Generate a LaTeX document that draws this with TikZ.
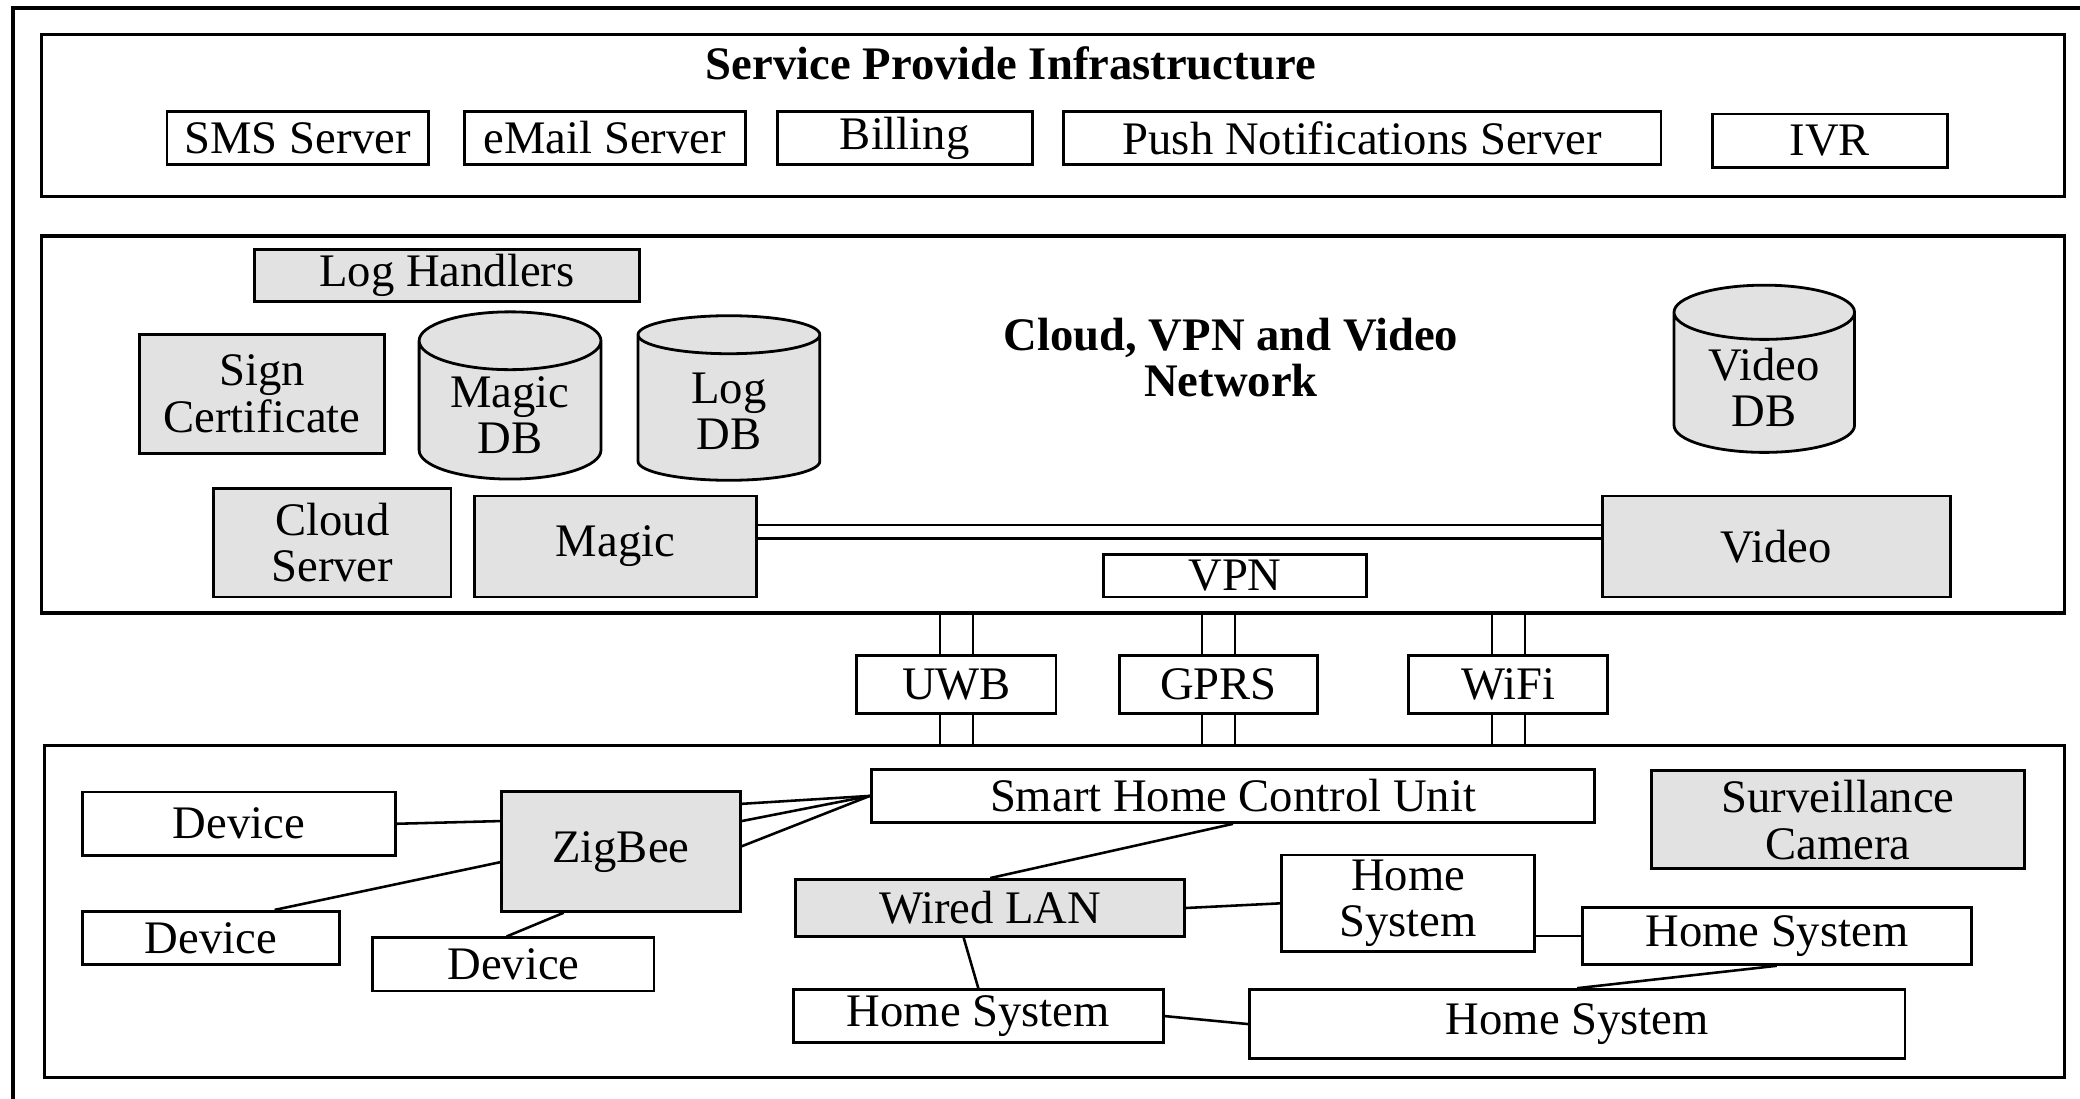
\documentclass[tikz,border=0pt]{standalone}
\usepackage{fontspec}
\setmainfont{Liberation Serif}
\usepackage{xcolor}
\definecolor{BoxGray}{RGB}{226,226,226}
\usepackage{tikz}
\usetikzlibrary{shapes.geometric}
\usetikzlibrary{backgrounds}
\tikzstyle{Layer}=[draw,line width=0.7pt,inner sep=0pt]
\tikzstyle{Box}=[draw,fill=white,line width=0.6pt,inner sep=1pt,
font=\fontsize{10}{10}\selectfont,align=center]
\tikzstyle{GrayBox}=[Box,fill=BoxGray]
\tikzstyle{DataBase}=[cylinder,shape border rotate=90,aspect=0.45,draw,
fill=BoxGray,line width=0.6pt,inner sep=1pt,font=\fontsize{10}{10}\selectfont,
align=center]
\tikzstyle{Title}=[font=\fontsize{10}{10}\selectfont\bfseries,align=center]
\tikzstyle{Edge}=[draw,line width=0.55pt]
\tikzstyle{Pipe}=[draw,line width=0.5pt,double=white,double distance=0.232cm]
\tikzstyle{Bus}=[draw,line width=0.5pt,double=white,double distance=0.082cm]
\begin{document}
\begin{tikzpicture}[x=0.01cm,y=-0.01cm]
        \useasboundingbox(0,0)rectangle(1568,828);
        \draw[line width=0.8pt](10,840)--(10,6)--(1580,6);
        % service provider layer
        \node[Layer,minimum width=15.24cm,minimum height=1.22cm](spi)at(794,87){};
        \node[Title](spit)at(762,48){Service Provide Infrastructure};
        \node[Box,minimum width=1.97cm,minimum height=0.40cm](sms)at(224.5,104){SMS Server};
        \node[Box,minimum width=2.12cm,minimum height=0.40cm](email)at(456,104){eMail Server};
        \node[Box,minimum width=1.92cm,minimum height=0.40cm](bill)at(682,104){Billing};
        \node[Box,minimum width=4.50cm,minimum height=0.40cm](push)at(1027,104){Push Notifications Server};
        \node[Box,minimum width=1.77cm,minimum height=0.40cm](ivr)at(1379.5,106){IVR};
        % cloud layer
        \node[Layer,minimum width=15.24cm,minimum height=2.84cm](cloud)at(794,320){};
        \node[Title](cloudt)at(928,269.5){Cloud, VPN and Video\\Network};
        \node[GrayBox,minimum width=2.90cm,minimum height=0.39cm](logh)at(337,207.5){Log Handlers};
        \node[GrayBox,minimum width=1.85cm,minimum height=0.90cm](sign)at(197.5,297){Sign\\Certificate};
        \node[DataBase,minimum width=1.37cm,minimum height=1.26cm](magicdb)at(384.5,313){Magic\\DB};
        \node[DataBase,minimum width=1.37cm,minimum height=1.24cm](logdb)at(549.5,310){Log\\DB};
        \node[DataBase,minimum width=1.36cm,minimum height=1.26cm](videodb)at(1330,292){Video\\DB};
        \node[GrayBox,minimum width=1.79cm,minimum height=0.82cm](cserv)at(250.5,409){Cloud\\Server};
        \node[GrayBox,minimum width=2.12cm,minimum height=0.76cm](magic)at(464,412){Magic};
        \node[GrayBox,minimum width=2.62cm,minimum height=0.76cm](video)at(1339,412){Video};
        \node[Box,minimum width=1.98cm,minimum height=0.32cm](vpn)at(931,434){VPN};
        \draw[Bus]([yshift=0.11cm]magic.east)--([yshift=0.11cm]video.west);
        % access links
        \node[Box,minimum width=1.50cm,minimum height=0.44cm](uwb)at(721,516){UWB};
        \node[Box,minimum width=1.49cm,minimum height=0.44cm](gprs)at(918.5,516){GPRS};
        \node[Box,minimum width=1.50cm,minimum height=0.44cm](wifi)at(1137,516){WiFi};
        % home layer
        \node[Layer,minimum width=15.22cm,minimum height=2.50cm](home)at(795,687){};
        \begin{scope}[on background layer]
        \draw[Pipe](uwb|-cloud.south)--(uwb|-home.north);
        \draw[Pipe](gprs|-cloud.south)--(gprs|-home.north);
        \draw[Pipe](wifi|-cloud.south)--(wifi|-home.north);
        \end{scope}
        \node[Box,minimum width=5.45cm,minimum height=0.40cm](shcu)at(929.5,600){Smart Home Control Unit};
        \node[GrayBox,minimum width=2.81cm,minimum height=0.74cm](cam)at(1385.5,618){Surveillance\\Camera};
        \node[Box,minimum width=2.36cm,minimum height=0.48cm](dev1)at(180,621){Device};
        \node[GrayBox,minimum width=1.80cm,minimum height=0.90cm](zig)at(468,642){ZigBee};
        \node[Box,minimum width=1.94cm,minimum height=0.40cm](dev2)at(159,707){Device};
        \node[Box,minimum width=2.12cm,minimum height=0.40cm](dev3)at(387,727){Device};
        \node[GrayBox,minimum width=2.93cm,minimum height=0.43cm](wlan)at(746.5,684.5){Wired LAN};
        \node[Box,minimum width=1.91cm,minimum height=0.72cm](hsa)at(1061.5,681){Home\\System};
        \node[Box,minimum width=2.93cm,minimum height=0.43cm](hsb)at(1339.5,705.5){Home System};
        \node[Box,minimum width=2.79cm,minimum height=0.40cm](hsc)at(737.5,766){Home System};
        \node[Box,minimum width=4.94cm,minimum height=0.52cm](hsd)at(1189,772){Home System};
        \draw[Edge](dev1.east)--([yshift=0.23cm]zig.west);
        \draw[Edge]([xshift=0.48cm]dev2.north)--([yshift=-0.08cm]zig.west);
        \draw[Edge]([xshift=-0.05cm]dev3.north)--([xshift=-0.43cm]zig.south);
        \draw[Edge]([yshift=0.36cm]zig.east)--(shcu.west);
        \draw[Edge]([yshift=0.23cm]zig.east)--(shcu.west);
        \draw[Edge]([yshift=0.04cm]zig.east)--(shcu.west);
        \draw[Edge](shcu.south)--(wlan.north);
        \draw[Edge](wlan.east)--(hsa.west);
        \draw[Edge](hsa.east|-hsb.west)--(hsb.west);
        \draw[Edge](hsb.south)--(hsd.north);
        \draw[Edge]([xshift=-0.2cm]wlan.south)--(hsc.north);
        \draw[Edge](hsc.east)--(hsd.west);
    \end{tikzpicture}
\end{document}
